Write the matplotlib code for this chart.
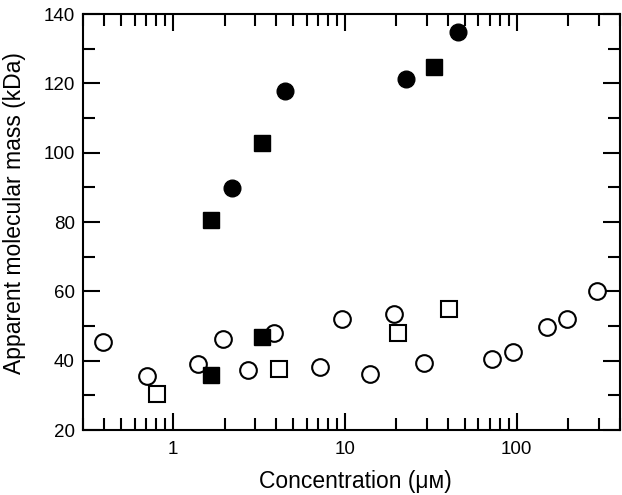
"""Apparent molecular mass against concentration, four series on a log axis."""

import matplotlib
matplotlib.use('Agg')
import matplotlib.pyplot as plt
from matplotlib.ticker import LogLocator, FixedLocator, MultipleLocator, NullFormatter

plt.rcParams['font.family'] = ['Liberation Sans', 'DejaVu Sans']

# filled circles
fc_x = [2.22, 4.52, 22.6, 45.7]
fc_y = [89.8, 117.9, 121.3, 134.9]

# filled squares
fs_x = [1.66, 3.32, 33.1, 1.66, 3.30]
fs_y = [80.7, 102.7, 124.8, 35.8, 46.7]

# open squares
os_x = [0.814, 4.14, 20.3, 40.5]
os_y = [30.3, 37.7, 47.9, 54.8]

# open circles
oc_x = [0.393, 0.703, 1.40, 1.95, 2.75, 3.89, 7.22, 9.65, 14.0, 19.4, 28.8,
        71.8, 94.8, 150, 196, 294]
oc_y = [45.3, 35.6, 39.0, 46.3, 37.2, 48.1, 38.1, 52.0, 36.3, 53.5, 39.3,
        40.4, 42.6, 49.8, 52.0, 60.1]

fig = plt.figure(figsize=(6.22, 4.95), dpi=100)
ax = fig.add_axes([0.1334, 0.1313, 0.8634, 0.8404])

ms = 12
ax.plot(oc_x, oc_y, 'o', ms=ms, mfc='white', mec='black', mew=1.5)
ax.plot(os_x, os_y, 's', ms=ms - 1, mfc='white', mec='black', mew=1.5)
ax.plot(fc_x, fc_y, 'o', ms=ms, mfc='black', mec='black')
ax.plot(fs_x, fs_y, 's', ms=ms - 1, mfc='black', mec='black')

ax.set_xscale('log')
ax.set_xlim(0.3, 400)
ax.set_ylim(20, 140)
ax.xaxis.set_major_locator(FixedLocator([1, 10, 100]))
ax.set_xticklabels(['1', '10', '100'])
ax.xaxis.set_minor_locator(LogLocator(base=10, subs=range(2, 10)))
ax.xaxis.set_minor_formatter(NullFormatter())
ax.yaxis.set_major_locator(MultipleLocator(20))
ax.yaxis.set_minor_locator(MultipleLocator(10))

for s in ax.spines.values():
    s.set_linewidth(1.5)
ax.tick_params(which='both', direction='in', top=True, right=True, width=1.5,
               labelsize=13.5)
ax.tick_params(which='major', length=12)
ax.tick_params(which='minor', length=8.5)
ax.tick_params(axis='x', pad=8)
ax.tick_params(axis='y', pad=6)

ax.set_xlabel('Concentration (μᴍ)', fontsize=16.5, va='center')
ax.set_ylabel('Apparent molecular mass (kDa)', fontsize=16.5, va='center')
ax.xaxis.set_label_coords(0.507, -0.123)
ax.yaxis.set_label_coords(-0.128, 0.522)

fig.savefig('out.png', dpi=100)
